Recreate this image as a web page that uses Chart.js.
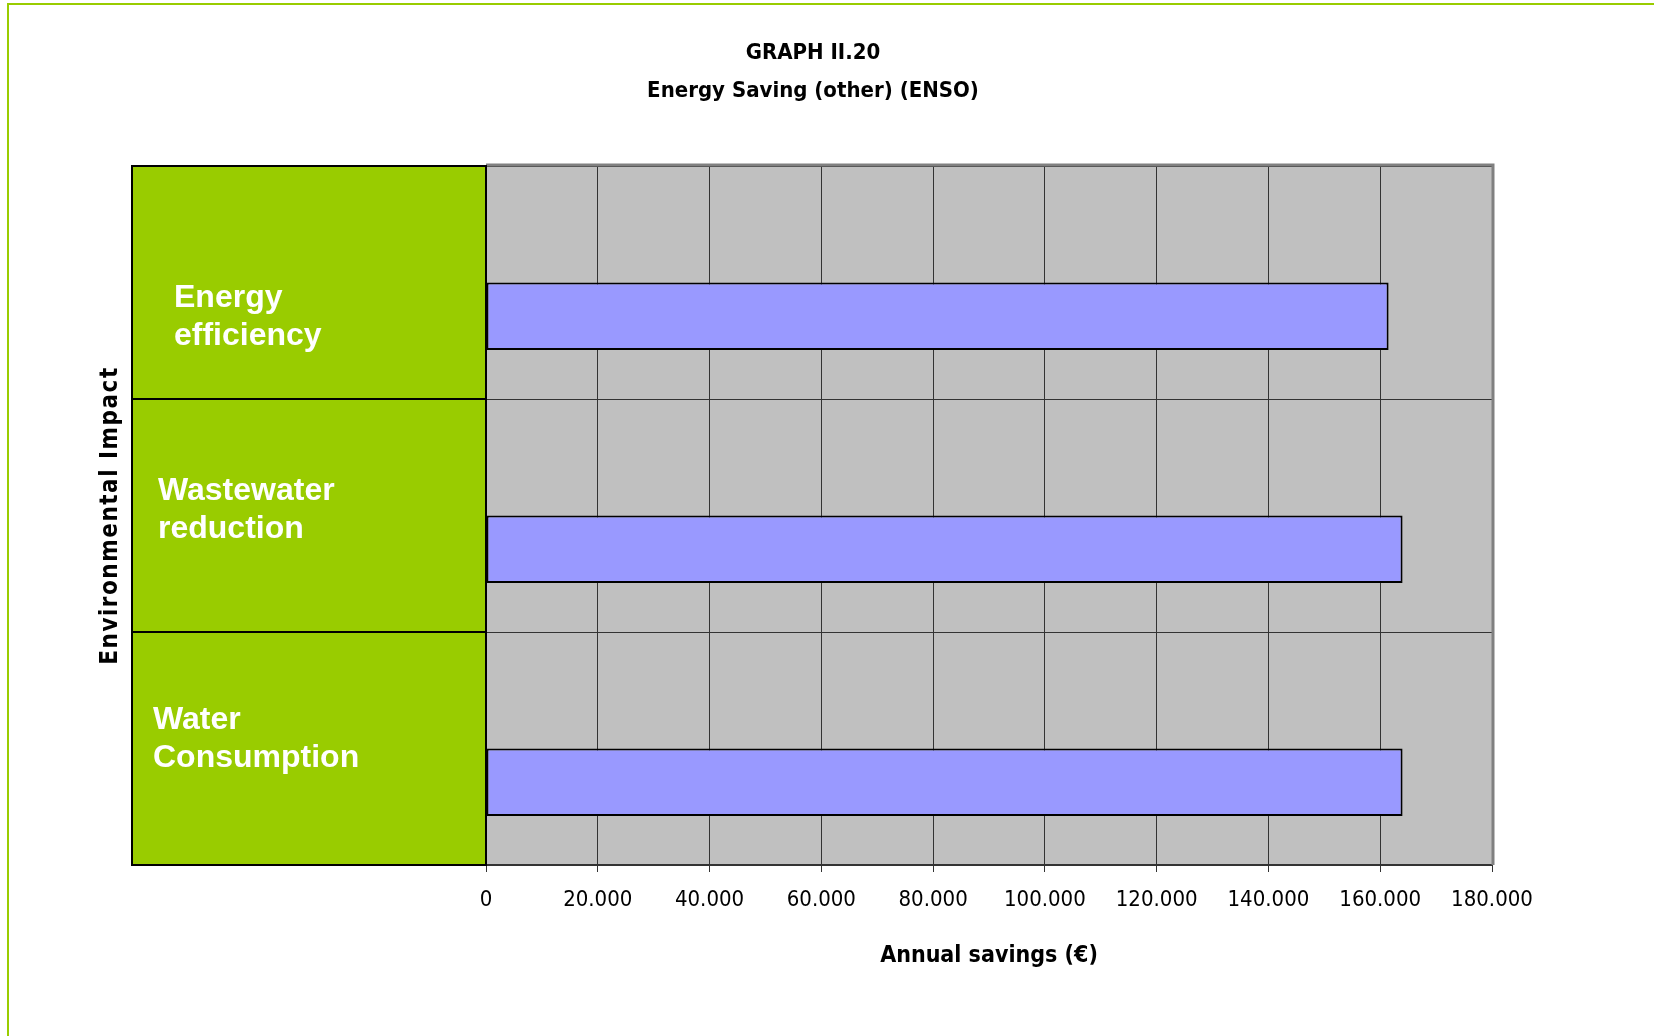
<!DOCTYPE html>
<html>
<head>
<meta charset="utf-8">
<script src="https://cdn.jsdelivr.net/npm/chart.js@4"></script>
<style>
  html, body { margin: 0; padding: 0; background: #ffffff; }
  #wrap { width: 1654px; height: 1036px; position: relative; }
</style>
</head>
<body>
<div id="wrap"><canvas id="ensoChart" width="1654" height="1036"></canvas></div>
<script>
// data
const categories = ['Energy efficiency', 'Wastewater reduction', 'Water Consumption'];
const categoryLines = [['Energy', 'efficiency'], ['Wastewater', 'reduction'], ['Water', 'Consumption']];
const emptySeries = [null, null, null];  // empty first series, which pushes the bars down in each band
const savings = [161500, 164000, 164000];
const tickValues = [0, 20000, 40000, 60000, 80000, 100000, 120000, 140000, 160000, 180000];
const titleLines = ['GRAPH II.20', 'Energy Saving (other) (ENSO)'];

const narrow = "'Liberation Sans Narrow', 'DejaVu Sans Condensed', sans-serif";
const green = '#99cc00';
// nudges of the white text inside each green box (the original is not quite centred)
const labelNudge = [{ x: 16, y: 35 }, { x: 0, y: -5 }, { x: -5, y: -9 }];

// grey plot background, green label boxes, frame lines, titles
const decorations = {
  id: 'decorations',
  beforeDraw(chart) {
    const { ctx, chartArea } = chart;
    ctx.save();
    // page frame
    ctx.fillStyle = green;
    ctx.fillRect(8, 3, 1654 - 8, 2);
    ctx.fillRect(7, 3, 2, 1036 - 3);
    // plot background
    ctx.fillStyle = '#c0c0c0';
    ctx.fillRect(chartArea.left, chartArea.top, chartArea.right - chartArea.left, chartArea.bottom - chartArea.top);
    // chart title
    ctx.fillStyle = '#000000';
    ctx.font = 'bold 22px ' + narrow;
    ctx.textAlign = 'center';
    ctx.textBaseline = 'middle';
    titleLines.forEach((t, k) => ctx.fillText(t, 813, 53 + k * 38));
    ctx.restore();
  },
  afterDraw(chart) {
    const { ctx, chartArea, scales } = chart;
    const y = scales.y;
    const band = (chartArea.bottom - chartArea.top) / categories.length;
    ctx.save();
    // top and right plot border
    ctx.strokeStyle = '#808080';
    ctx.lineWidth = 3;
    ctx.beginPath();
    ctx.moveTo(chartArea.left, chartArea.top - 1);
    ctx.lineTo(chartArea.right + 1, chartArea.top - 1);
    ctx.lineTo(chartArea.right + 1, chartArea.bottom);
    ctx.stroke();

    // green category boxes
    categories.forEach((c, i) => {
      const cy = y.getPixelForValue(i);
      const top = cy - band / 2;
      ctx.fillStyle = green;
      ctx.fillRect(132, top, chartArea.left - 132, band);
      ctx.strokeStyle = '#000000';
      ctx.lineWidth = 2;
      ctx.strokeRect(132, top, chartArea.left - 132, band);
      ctx.fillStyle = '#ffffff';
      ctx.font = "bold 32px 'Liberation Sans', Arial, sans-serif";
      ctx.textBaseline = 'middle';
      ctx.textAlign = 'left';
      const lines = categoryLines[i];
      lines.forEach((t, k) => {
        ctx.fillText(t, 158 + labelNudge[i].x, cy + labelNudge[i].y + (k - (lines.length - 1) / 2) * 38);
      });
    });

    // y axis title
    ctx.translate(111, (chartArea.top + chartArea.bottom) / 2);
    ctx.rotate(-Math.PI / 2);
    ctx.fillStyle = '#000000';
    ctx.font = 'bold 24px ' + narrow;
    ctx.letterSpacing = '1.5px';
    ctx.textAlign = 'center';
    ctx.textBaseline = 'middle';
    ctx.fillText('Environmental Impact', 0, 0);
    ctx.restore();
  }
};

document.addEventListener('DOMContentLoaded', function () {
  const config = {
    type: 'bar',
    data: {
      labels: categories,
      datasets: [
        {
          label: 'Series 1',
          data: emptySeries,
          backgroundColor: '#9999ff',
        },
        {
          label: 'Annual savings',
          data: savings,
          backgroundColor: '#9999ff',
          borderColor: '#000000',
          borderWidth: 2,
          borderSkipped: false,
        }
      ]
    },
    options: {
      indexAxis: 'y',
      responsive: false,
      animation: false,
      categoryPercentage: 0.58,
      barPercentage: 1.0,
      layout: {
        padding: { left: 486, right: 162, top: 166, bottom: 66 }
      },
      plugins: {
        legend: { display: false },
        tooltip: { enabled: false },
        title: { display: false }
      },
      scales: {
        x: {
          min: 0,
          max: 180000,
          afterBuildTicks(scale) {
            scale.ticks = tickValues.map(v => ({ value: v }));
          },
          grid: {
            color: '#333333',
            lineWidth: 1,
            tickColor: '#333333',
            tickLength: 7,
          },
          border: { color: '#333333', width: 2 },
          ticks: {
            color: '#000000',
            font: { family: narrow, size: 22 },
            padding: 15,
            maxRotation: 0,
            autoSkip: false,
            callback: v => v.toLocaleString('de-DE'),
          },
          title: {
            display: true,
            text: 'Annual savings (€)',
            color: '#000000',
            font: { family: narrow, size: 23, weight: 'bold' },
            padding: { top: 14, bottom: 0 },
          }
        },
        y: {
          grid: {
            color: '#333333',
            lineWidth: 1,
            offset: true,
            drawTicks: false,
          },
          border: { display: false },
          ticks: { display: false },
        }
      }
    },
    plugins: [decorations]
  };

  const ctx = document.getElementById('ensoChart').getContext('2d');
  new Chart(ctx, config);
});
</script>
</body>
</html>
